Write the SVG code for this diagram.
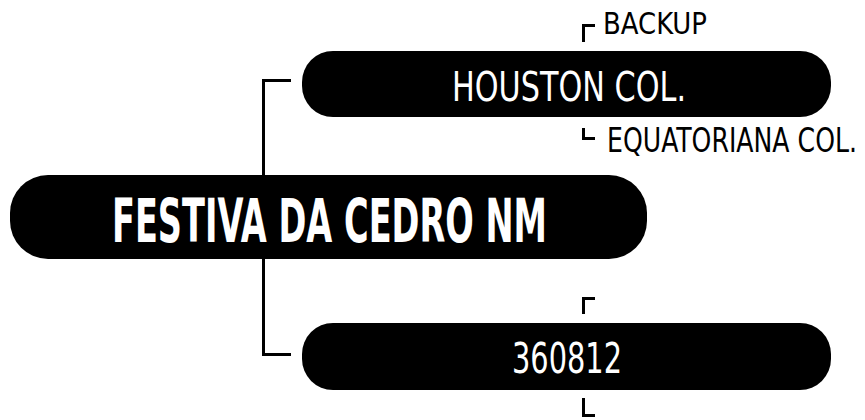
<svg xmlns="http://www.w3.org/2000/svg" width="865" height="420" viewBox="0 0 865 420">
<style>
.node{fill:#000}
.nt{fill:#fff;font-family:"DejaVu Sans Condensed","DejaVu Sans","Liberation Sans",sans-serif;text-anchor:middle}
.lbl{fill:#000;font-family:"DejaVu Sans Condensed","DejaVu Sans","Liberation Sans",sans-serif}
.ln{fill:none;stroke:#000;stroke-width:3}
</style>
<rect width="865" height="420" fill="#fff"/>
<g id="connectors">
<path class="ln" d="M291 80.5H263.5V354.5H291"/>
</g>
<g id="node-main">
<rect class="node" x="10" y="175" width="637" height="84" rx="38"/>
<text class="nt" x="329.5" y="242" font-size="61" font-weight="bold" textLength="435" lengthAdjust="spacingAndGlyphs">FESTIVA DA CEDRO NM</text>
</g>
<g id="node-houston">
<rect class="node" x="302" y="51" width="529" height="66" rx="31"/>
<text class="nt" x="569" y="101" font-size="41" textLength="234" lengthAdjust="spacingAndGlyphs">HOUSTON COL.</text>
<path class="ln" d="M583.5 42V25.5H595"/>
<text class="lbl" x="603" y="34" font-size="29.5" textLength="104" lengthAdjust="spacingAndGlyphs">BACKUP</text>
<path class="ln" d="M583.5 128V138.5H595"/>
<text class="lbl" transform="translate(607 152) scale(1 1.3)" x="0" y="0" font-size="25.5" textLength="250" lengthAdjust="spacingAndGlyphs">EQUATORIANA COL.</text>
</g>
<g id="node-360812">
<rect class="node" x="302" y="323" width="529" height="67" rx="31"/>
<text class="nt" x="567" y="373" font-size="42" textLength="110" lengthAdjust="spacingAndGlyphs">360812</text>
<path class="ln" d="M583.5 314V298.5H595"/>
<path class="ln" d="M583.5 398V415.5H595"/>
</g>
</svg>
